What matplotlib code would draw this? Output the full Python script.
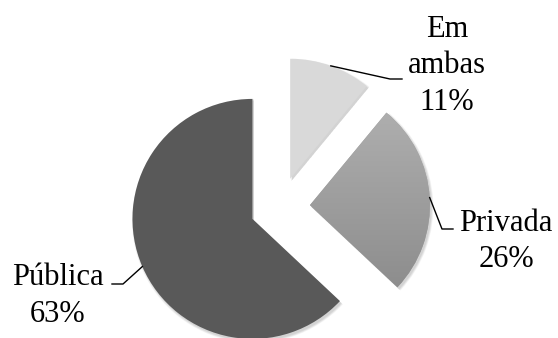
import matplotlib.pyplot as plt
import numpy as np
from matplotlib.patches import Wedge

# Onde o curso foi feito
labels = ['Em ambas', 'Privada', 'Pública']
values = [11, 26, 63]
colors = ['#d9d9d9', '#a0a0a0', '#595959']

plt.rcParams['font.family'] = ['Liberation Serif', 'DejaVu Serif']

fig = plt.figure(figsize=(5.58, 3.38), dpi=100)
ax = fig.add_axes([0, 0, 1, 1])

center = (280, 131)
radius = 120
shift = 30  # distance each slice is pulled out

wedges, _ = ax.pie(values, colors=colors, startangle=90, counterclock=False,
                   center=center, radius=radius, explode=[shift] * 3,
                   wedgeprops=dict(edgecolor='none', zorder=2), frame=True)
ax.set_xlim(0, 558)
ax.set_ylim(0, 338)
ax.set_aspect('equal')
ax.axis('off')

# soft shadow under each slice
start = 90.0
angles = []
for v in values:
    end = start - v / sum(values) * 360
    mid = np.deg2rad((start + end) / 2)
    cx = center[0] + shift * np.cos(mid)
    cy = center[1] + shift * np.sin(mid)
    angles.append((start, end, mid, cx, cy))
    for k in range(5):
        w = Wedge((cx + 1.5, cy - 2.0), radius + 2.0 - k * 0.5, end, start,
                  facecolor='black', edgecolor='none', alpha=0.035, zorder=1)
        ax.add_patch(w)
    start = end

# vertical gradient on the Privada slice
grad = np.linspace(0, 1, 256).reshape(-1, 1)
cmap = plt.matplotlib.colors.LinearSegmentedColormap.from_list('g', ['#8c8c8c', '#b0b0b0'])
im = ax.imshow(grad, cmap=cmap, origin='lower', aspect='auto',
               extent=(300, 440, 45, 235), zorder=3)
im.set_clip_path(wedges[1])
ax.set_xlim(0, 558)
ax.set_ylim(0, 338)

# label text and leader lines
text_pos = [(447, [301, 265, 228]), (506, [107, 71]), (58, [53, 16])]
elbows = [[(390, 259), (402, 259)], [(442, 109), (453, 109)], [(123, 54), (112, 54)]]
for i, lab in enumerate(labels):
    lines = (lab.replace(' ', '\n') if lab == 'Em ambas' else lab).split('\n')
    lines.append('%d%%' % values[i])
    x, ys = text_pos[i]
    for line, y in zip(lines, ys):
        ax.text(x, y, line, ha='center', va='baseline', fontsize=22, color='black')
    s, e, mid, cx, cy = angles[i]
    px = cx + radius * np.cos(mid)
    py = cy + radius * np.sin(mid)
    xs = [px] + [p[0] for p in elbows[i]]
    ys_ = [py] + [p[1] for p in elbows[i]]
    ax.plot(xs, ys_, color='black', lw=1.0, zorder=4)

fig.savefig('out.png', dpi=100)
